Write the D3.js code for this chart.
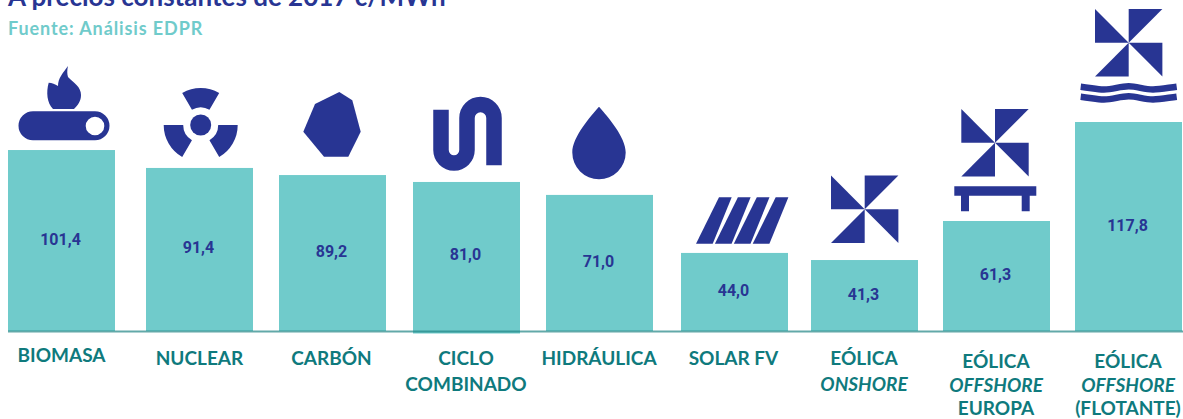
<!DOCTYPE html>
<html>
<head>
<meta charset="utf-8">
<script src="https://cdn.jsdelivr.net/npm/d3@7"></script>
<style>
    html, body { margin: 0; padding: 0; background: #fff; overflow: hidden; }
    svg { display: block; }
</style>
</head>
<body>
<svg id="vis" width="1183" height="419"></svg>
<script>
    // data
    var categories = ["BIOMASA", "NUCLEAR", "CARBÓN", "CICLO COMBINADO", "HIDRÁULICA", "SOLAR FV", "EÓLICA ONSHORE", "EÓLICA OFFSHORE EUROPA", "EÓLICA OFFSHORE (FLOTANTE)"]
    var values = [101.4, 91.4, 89.2, 81.0, 71.0, 44.0, 41.3, 61.3, 117.8]
    // the printed bars are not quite proportional to their labels, these are the lengths as drawn
    var barLengths = [102.0, 91.9, 87.9, 84.0, 76.7, 44.0, 40.0, 62.0, 117.8]
    var labelLines = [
        [["BIOMASA", false]],
        [["NUCLEAR", false]],
        [["CARBÓN", false]],
        [["CICLO", false], ["COMBINADO", false]],
        [["HIDRÁULICA", false]],
        [["SOLAR FV", false]],
        [["EÓLICA", false], ["ONSHORE", true]],
        [["EÓLICA", false], ["OFFSHORE", true], ["EUROPA", false]],
        [["EÓLICA", false], ["OFFSHORE", true], ["(FLOTANTE)", false]]
    ]

    var NAVY = "#283593", TEAL = "#70CBCB", LABEL = "#0F7A7D"
    var FONT = "Lato, 'Open Sans', sans-serif"

    var svg = d3.select("#vis")
    var baseline = 331
    var barWidth = 107

    var x = d3.scaleOrdinal()
        .domain(categories)
        .range([8, 146, 279, 413, 546, 681, 811, 943, 1075])
    var y = d3.scaleLinear().domain([0, 117.8]).range([baseline, 122])

    // label placement does not follow the bars exactly
    var labelX = d3.scaleOrdinal().domain(categories)
        .range([61.5, 199.5, 331.5, 466, 599, 733.5, 864, 996, 1128])
    var labelY = d3.scaleOrdinal().domain(categories)
        .range([362, 365, 365, 365, 365, 365, 365, 368, 368])

    // Title, cut by the top edge as in the original
    svg.append("text")
        .attr("x", 8).attr("y", 6)
        .style("font", "bold 26px " + FONT)
        .style("fill", NAVY)
        .text("A precios constantes de 2017 c/MWh")
    svg.append("text")
        .attr("x", 8).attr("y", 35)
        .style("font", "bold 18px " + FONT)
        .style("letter-spacing", "0.9px")
        .style("fill", TEAL)
        .text("Fuente: Análisis EDPR")

    // Bars
    svg.selectAll("rect.bar")
        .data(categories)
        .enter().append("rect")
        .attr("class", "bar")
        .attr("x", d => x(d))
        .attr("y", (d, i) => y(barLengths[i]))
        .attr("width", barWidth)
        // the ciclo bar hangs slightly below the axis
        .attr("height", (d, i) => baseline - y(barLengths[i]) + (i == 3 ? 2.5 : 0))
        .style("fill", TEAL)

    svg.append("line")
        .attr("x1", 8).attr("x2", 1183)
        .attr("y1", baseline + 0.5).attr("y2", baseline + 0.5)
        .style("stroke", "#1F8585")
        .style("stroke-opacity", 0.7)
        .style("stroke-width", 2)

    // Values
    svg.selectAll("text.value")
        .data(categories)
        .enter().append("text")
        .attr("class", "value")
        .attr("x", d => x(d) + barWidth / 2 - 1)
        .attr("y", (d, i) => (y(barLengths[i]) + baseline) / 2 + 4)
        .attr("text-anchor", "middle")
        .style("font", "bold 16px Roboto, sans-serif")
        .style("fill", NAVY)
        .text((d, i) => d3.format(".1f")(values[i]).replace(".", ","))

    // Category labels
    var labels = svg.selectAll("text.cat")
        .data(categories)
        .enter().append("text")
        .attr("class", "cat")
        .attr("text-anchor", "middle")
        .style("font", "bold 19px " + FONT)
        .style("fill", LABEL)
    labels.each(function(d, i) {
        var step = labelLines[i].length == 3 ? 23.5 : 25.5
        labelLines[i].forEach(function(line, j) {
            d3.select(this).append("tspan")
                .attr("x", labelX(d))
                .attr("y", labelY(d) + j * step)
                .style("font-style", line[1] ? "italic" : "normal")
                .text(line[0])
        }, this)
    })

    // Icons
    var icons = svg.append("g").style("fill", NAVY)

    // biomass
    icons.append("path")
        .attr("d", "M53,109 C47,103 46,92 48.7,82.7 C52,83 55,84 58,86 C58,78 63,73 68,66 C67,70 67,74 68,77 C74,83 81,87 81,95 C81,101 78,105 74,109 Z")
    icons.append("path")
        .attr("fill-rule", "evenodd")
        .attr("d", "M33,111.3 H95 A14.5,14.5 0 0 1 95,140.3 H33 A14.5,14.5 0 0 1 33,111.3 Z M95,116.7 A9.3,9.3 0 1 0 95,135.3 A9.3,9.3 0 1 0 95,116.7 Z")

    // nuclear
    var nuclear = icons.append("g").attr("transform", "translate(200.7,125)")
    nuclear.append("circle").attr("r", 10.5)
    var sector = d3.arc().innerRadius(17.5).outerRadius(37)
    var D2R = Math.PI / 180
    ;[[-30, 30], [90, 150], [210, 270]].forEach(function(a) {
        nuclear.append("path").attr("d", sector({ startAngle: a[0] * D2R, endAngle: a[1] * D2R }))
    })

    // coal
    icons.append("path")
        .attr("d", "M339.3,92 L352.3,100.3 L360.7,131.7 L348.3,156.7 L324,156.7 L303.3,131.7 L315,104 Z")

    // combined cycle pipe
    icons.append("path")
        .attr("d", "M441,109.7 V150 A13,13 0 0 0 467,150 V118 A13.5,13.5 0 0 1 494,118 V165.3")
        .style("fill", "none")
        .style("stroke", NAVY)
        .style("stroke-width", 15.5)

    // water drop
    icons.append("path")
        .attr("d", "M599,106.7 C590,117 572.3,137 572.3,152.5 A26.7,26.7 0 0 0 625.7,152.5 C625.7,137 608,117 599,106.7 Z")

    // solar panel stripes
    d3.range(4).forEach(function(i) {
        var s = i * 18.9
        icons.append("path")
            .attr("d", "M" + (696 + s) + ",243.7 L" + (719 + s) + ",197.3 H" + (731.7 + s) + " L" + (712.7 + s) + ",243.7 Z")
    })

    // wind
    function pinwheel(cx, cy) {
        var s = 33.7
        var g = icons.append("g").attr("transform", "translate(" + cx + "," + cy + ")")
        ;[
            [[-s, -s], [-s, 0], [0, 0]],
            [[0, -s], [s, -s], [0, 0]],
            [[0, 0], [s, 0], [s, s]],
            [[0, 0], [0, s], [-s, s]]
        ].forEach(function(t) {
            g.append("path").attr("d", "M" + t.join("L") + "Z")
        })
    }
    pinwheel(864.7, 209.3)
    pinwheel(995, 142.7)
    pinwheel(1128.7, 42.7)

    // fixed platform
    icons.append("path")
        .attr("d", "M954.3,186.3 H1036.3 V195.7 H1029.7 V211.3 H1021.7 V195.7 H969 V211.3 H961 V195.7 H954.3 Z")

    // floating: waves
    ;[0, 10].forEach(function(dy) {
        icons.append("path")
            .attr("transform", "translate(0," + dy + ")")
            .attr("d", "M1080.7,86.7 C1092,88 1097,89.5 1104,89.5 C1113,89.5 1120,86.3 1128.7,86.3 C1137,86.3 1144,89.5 1153,89.5 C1160,89.5 1167,88 1176.7,86.7")
            .style("fill", "none")
            .style("stroke", NAVY)
            .style("stroke-width", 6.5)
    })
</script>
</body>
</html>
